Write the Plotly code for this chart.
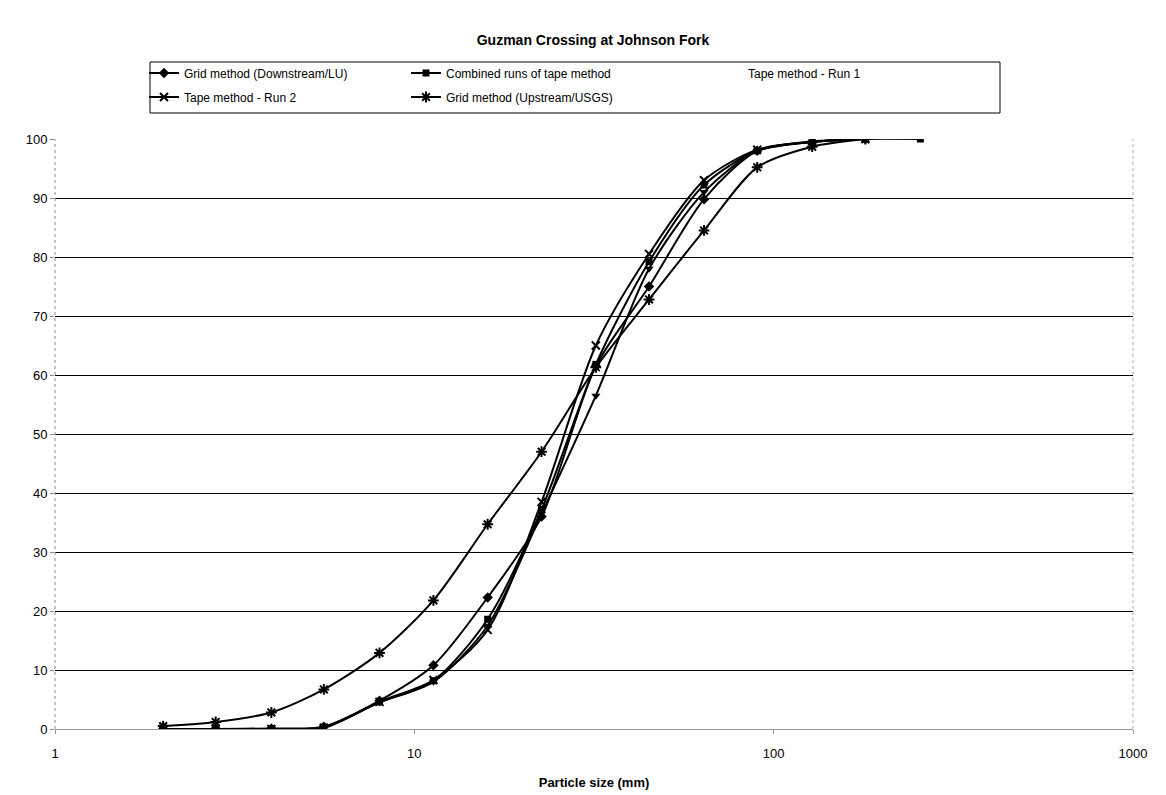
import plotly.graph_objects as go

# Particle sizes (mm) - phi sieve classes
sizes = [2, 2.8, 4, 5.6, 8, 11.3, 16, 22.6, 32, 45, 64, 90, 128, 180, 256]

grid_down = [0, 0, 0.1, 0.4, 4.8, 10.8, 22.3, 36.0, 61.5, 75.0, 89.8, 98.0, 99.5, 100]
combined = [0, 0, 0, 0.3, 4.6, 8.2, 18.6, 37.2, 61.8, 79.2, 92.2, 98.0, 99.5, 100, 100]
tape_run1 = [0, 0, 0, 0.3, 4.5, 8.0, 17.5, 36.5, 56.5, 78.0, 91.0, 98.0, 99.5, 100]
tape_run2 = [0, 0, 0, 0.2, 4.6, 8.3, 16.8, 38.5, 65.0, 80.5, 93.0, 98.2, 99.6, 100]
grid_up = [0.5, 1.2, 2.8, 6.7, 12.9, 21.8, 34.7, 47.0, 61.3, 72.8, 84.5, 95.2, 98.7, 100]

names = ["Grid method (Downstream/LU)", "Combined runs of tape method",
         "Tape method - Run 1", "Tape method - Run 2", "Grid method (Upstream/USGS)"]

FONT = "Arial, Liberation Sans, sans-serif"

# The page body adds an 8 px offset; work in window pixels and convert.
OFF = 8
W, H = 1166 - OFF, 795 - OFF
PL, PR, PT, PB = 55, 1133, 139, 729          # plot area in window pixels
ML, MR, MT, MB = PL - OFF, W - (PR - OFF), PT - OFF, H - (PB - OFF)
PW, PH = PR - PL, PB - PT


def px2x(px):
    return (px - PL) / PW


def px2y(py):
    return (PB - py) / PH


fig = go.Figure()


def add(y, name, symbol, size, legend, showlegend=True, open_line=False):
    fig.add_trace(go.Scatter(
        x=sizes[:len(y)], y=y, name=name, mode="lines+markers",
        line=dict(color="black", width=2, shape="spline", smoothing=0.8),
        marker=dict(symbol=symbol, size=size, color="black",
                    line=dict(color="black", width=2 if open_line else 0)),
        showlegend=showlegend, legend=legend,
    ))


add(grid_down, names[0], "diamond", 8, "legend")
add(combined, names[1], "square", 7, "legend2")
# Tape run 1: data drawn, legend entry shows no symbol (as in reference)
add(tape_run1, names[2], "triangle-down", 8, "legend3", showlegend=False)
fig.add_trace(go.Scatter(x=[None], y=[None], name=names[2], mode="lines",
                         line=dict(color="rgba(0,0,0,0)", width=2), legend="legend3"))
add(tape_run2, names[3], "x-thin-open", 8, "legend4", open_line=True)
add(grid_up, names[4], "asterisk-open", 9, "legend5", open_line=True)


def leg(xpx, ypx):
    return dict(x=px2x(xpx), xanchor="left", y=px2y(ypx), yanchor="middle",
                orientation="h", borderwidth=0, bgcolor="rgba(0,0,0,0)",
                font=dict(family=FONT, size=12, color="black"), itemwidth=30)


fig.update_layout(
    width=W, height=H,
    paper_bgcolor="white", plot_bgcolor="white",
    margin=dict(l=ML, r=MR, t=MT, b=MB, autoexpand=False),
    font=dict(family=FONT, size=13, color="black"),
    title=dict(text="<b>Guzman Crossing at Johnson Fork</b>", x=(593 - OFF) / W, xanchor="center",
               y=1 - (40 - OFF) / H, yanchor="middle", font=dict(family=FONT, size=14, color="black")),
    legend=leg(144, 73),
    legend2=leg(406, 73),
    legend3=leg(708, 73),
    legend4=leg(144, 97),
    legend5=leg(406, 97),
    xaxis=dict(type="log", range=[0, 3], tickvals=[1, 10, 100, 1000],
               ticktext=["1", "10", "100", "1000"], showgrid=False,
               showline=True, linecolor="#999999", linewidth=1,
               ticks="outside", ticklen=4, tickcolor="#999999", ticklabelstandoff=8,
               title=dict(text="<b>Particle size (mm)</b>", font=dict(family=FONT, size=13), standoff=18),
               zeroline=False),
    yaxis=dict(range=[0, 100], dtick=10, showgrid=True, gridcolor="black", gridwidth=1,
               showline=False, ticks="outside", ticklen=4, tickcolor="#888888", zeroline=False),
)
# Left axis (dotted gray) and right border (dotted)
fig.add_shape(type="line", xref="paper", yref="paper", x0=0, x1=0, y0=0, y1=1,
              line=dict(color="#888888", width=1, dash="dot"))
fig.add_shape(type="line", xref="paper", yref="paper", x0=1, x1=1, y0=0, y1=1,
              line=dict(color="#aaaaaa", width=1, dash="dot"))
# Legend frame
fig.add_shape(type="rect", xref="paper", yref="paper",
              x0=px2x(150), x1=px2x(1000), y0=px2y(113), y1=px2y(62),
              line=dict(color="black", width=1), fillcolor="rgba(0,0,0,0)")

fig.write_html("out.html")
